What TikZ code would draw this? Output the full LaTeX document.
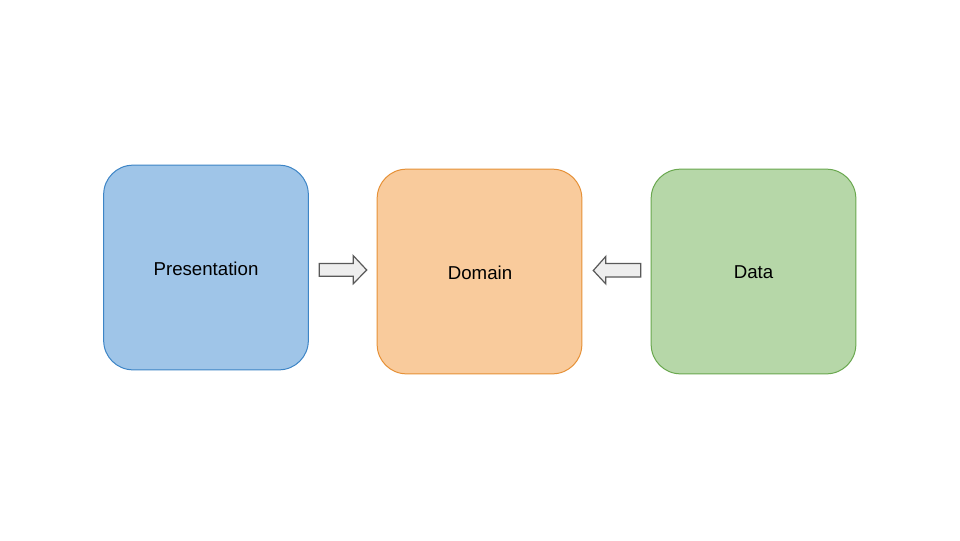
\documentclass[tikz,border=0pt]{standalone}
\usepackage{fontspec}
\setmainfont{Liberation Sans}
\definecolor{pfill}{HTML}{9FC5E8}
\definecolor{pdraw}{HTML}{3D85C6}
\definecolor{dfill}{HTML}{F9CB9C}
\definecolor{ddraw}{HTML}{E69138}
\definecolor{gfill}{HTML}{B6D7A8}
\definecolor{gdraw}{HTML}{6AA84F}
\definecolor{afill}{HTML}{EEEEEE}
\definecolor{adraw}{HTML}{595959}
\begin{document}
\begin{tikzpicture}[x=0.75pt,y=-0.75pt,
  layer/.style={rounded corners=22pt,minimum width=153.5pt,minimum height=153.5pt,
    line width=0.75pt,font=\fontsize{14pt}{16pt}\selectfont,inner sep=0pt},
  label/.style={font=\fontsize{14pt}{16pt}\selectfont,inner sep=0pt},
  blockarrow/.style={fill=afill,draw=adraw,line width=0.9pt,line join=miter}]
\useasboundingbox (0,0) rectangle (960,540);
\fill[white] (0,0) rectangle (960,540);
\node[layer,fill=pfill,draw=pdraw] (pres) at (206,267.5) {};
\node[layer,fill=dfill,draw=ddraw] (dom) at (479.5,271.5) {};
\node[layer,fill=gfill,draw=gdraw] (data) at (753.5,271.5) {};
\node[label] (prestext) at (206,268.5) {Presentation};
\node[label] (domtext) at (480,272.5) {Domain};
\node[label] (datatext) at (753.5,272.5) {Data};
% right-pointing block arrow (Presentation -> Domain)
\coordinate (a1) at (319.3,270);
\draw[blockarrow] (a1) ++(0,-6.5) -- ++(34,0) -- ++(0,-7.8) -- ++(13.4,14.3)
  -- ++(-13.4,13.7) -- ++(0,-7.4) -- ++(-34,0) -- cycle;
% left-pointing block arrow (Data -> Domain)
\coordinate (a2) at (640.7,270);
\draw[blockarrow] (a2) ++(0,-6.5) -- ++(-35,0) -- ++(0,-7) -- ++(-12.4,14)
  -- ++(12.4,13.3) -- ++(0,-6.8) -- ++(35,0) -- cycle;
\end{tikzpicture}
\end{document}
